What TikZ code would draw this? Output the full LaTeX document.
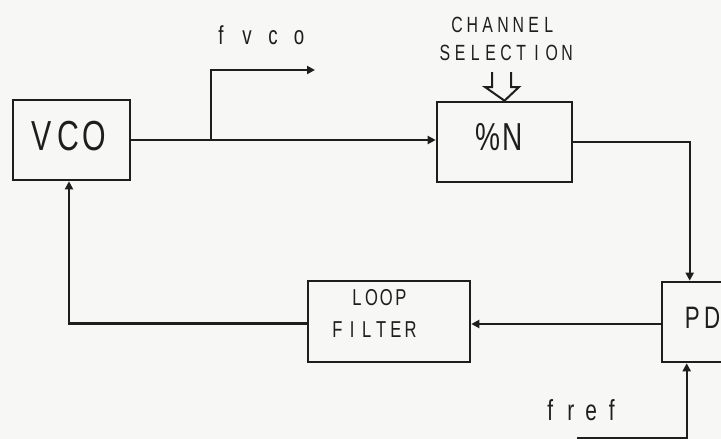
\documentclass[tikz,border=0pt]{standalone}
\usepackage{fontspec}
\usetikzlibrary{arrows.meta}
\newfontfamily\plotfont[FakeStretch=0.72]{Liberation Sans}
\makeatletter
\newcommand\fixw[2]{\def\fw@w{#1}\@tfor\fw@c:=#2\do{\makebox[\fw@w]{\fw@c}}}
\makeatother
\definecolor{ink}{RGB}{30,30,30}
\definecolor{paper}{RGB}{247,247,245}
\begin{document}
\begin{tikzpicture}[x=1pt,y=-1pt,
  blk/.style={draw=ink,line width=2.6pt,inner sep=0pt},
  wire/.style={draw=ink,line width=2.3pt},
  arr/.style={wire,-{Triangle[length=8pt,width=8pt]}},
  lbl/.style={inner sep=0pt,text=ink,anchor=base},
  fs/.style={font={\plotfont\fontsize{#1}{#1}\selectfont}}]
\useasboundingbox[fill=paper] (0,0) rectangle (721,439);
% blocks
\node[blk,minimum width=117pt,minimum height=80pt] (vco) at (71.5,140) {};
\node[blk,minimum width=135pt,minimum height=80pt] (div) at (504.5,142) {};
\node[blk,minimum width=120pt,minimum height=80pt] (pd) at (722,322) {};
\node[blk,minimum width=162pt,minimum height=81pt] (lf) at (389,321.5) {};
% labels
\node[lbl,fs=42] (vcot) at (68,150) {\fixw{26pt}{VCO}};
\node[lbl,fs=39] (divt) at (500,150) {\fixw{25pt}{\%N}};
\node[lbl,fs=31,anchor=base west] (pdt) at (682,328) {\fixw{20pt}{PD}};
\node[lbl,fs=22] (ch1) at (503,32) {\fixw{15.3pt}{CHANNEL}};
\node[lbl,fs=22] (ch2) at (506,60) {\fixw{15.3pt}{SELECTION}};
\node[lbl,fs=23] (lf1) at (379,305) {\fixw{14.6pt}{LOOP}};
\node[lbl,fs=23] (lf2) at (374,337) {\fixw{14.6pt}{FILTER}};
\node[lbl,fs=26] (fvcot) at (260,45) {\fixw{26pt}{fvco}};
\node[lbl,fs=29] (freft) at (581,420) {\fixw{20.5pt}{fref}};
% free ends
\coordinate (br) at (211,140);
\coordinate (fvout) at (315,70);
\coordinate (frefin) at (577,438);
% connectors
\draw[arr] (vco.east) -- (vco.east -| div.west);
\draw[arr] (br) |- (fvout);
\draw[arr] (div.east) -| ([xshift=29pt]pd.north west);
\draw[arr] ([yshift=-2pt]pd.west) -- ([yshift=-2pt]pd.west -| lf.east);
\draw[arr] ([yshift=-2pt]lf.west) -| ([xshift=-2.5pt]vco.south);
\draw[arr] (frefin) -| ([xshift=26pt]pd.south west);
% channel selection hollow arrow
\draw[wire,line width=2pt,line join=miter] (492,72) -- (492,87) -- (485,87) -- (div.north) -- (519,87) -- (511,87) -- (511,72);
\end{tikzpicture}
\end{document}
